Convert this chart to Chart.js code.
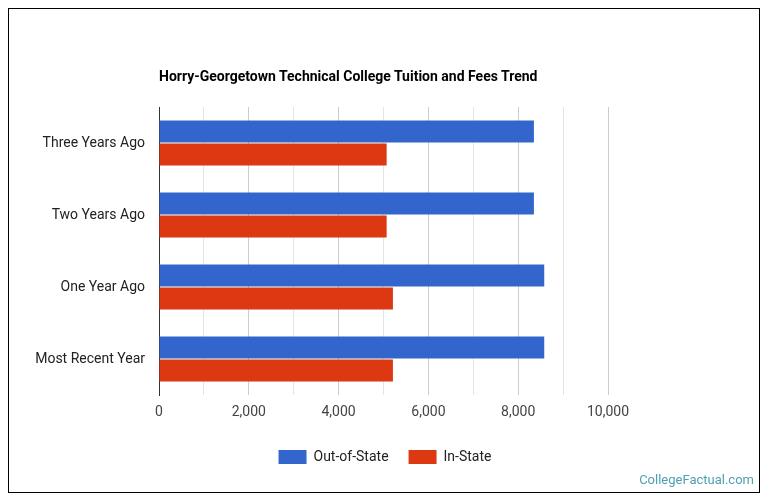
<!DOCTYPE html>
<html>
<head>
<meta charset="utf-8">
<script src="https://cdn.jsdelivr.net/npm/chart.js@4/dist/chart.umd.min.js"></script>
<style>
  html, body { margin: 0; padding: 0; background: #fff; }
  #wrap { position: relative; width: 770px; height: 503px; font-family: Roboto, "Noto Sans", sans-serif; }
  #frame { position: absolute; left: 8px; top: 8px; width: 752px; height: 485px; box-sizing: border-box; border: 1px solid #000; pointer-events: none; }
  #title { position: absolute; left: 159px; top: 67px; font-size: 14px; font-weight: bold; color: #000; line-height: 18px; white-space: nowrap; }
  #credit { position: absolute; right: 16px; top: 471px; font-size: 13px; color: #4f9fb5; line-height: 18px; }
  canvas { position: absolute; left: 0; top: 0; }
</style>
</head>
<body>
<div id="wrap">
  <canvas id="chart" width="770" height="503"></canvas>
  <div id="title">Horry-Georgetown Technical College Tuition and Fees Trend</div>
  <div id="credit">CollegeFactual.com</div>
  <div id="frame"></div>
</div>
<script>
// chart data
const categories = ["Three Years Ago", "Two Years Ago", "One Year Ago", "Most Recent Year"];
const outOfState = [8350, 8350, 8580, 8580];
const inState = [5070, 5070, 5210, 5210];
const xTicks = [0, 2000, 4000, 6000, 8000, 10000];

const ctx = document.getElementById("chart").getContext("2d");
Chart.defaults.font.family = "Roboto, 'Noto Sans', sans-serif";

new Chart(ctx, {
  type: "bar",
  data: {
    labels: categories,
    datasets: [
      {
        label: "Out-of-State",
        data: outOfState,
        backgroundColor: "#3366cc",
        categoryPercentage: 0.64,
        barPercentage: 0.96,
      },
      {
        label: "In-State",
        data: inState,
        backgroundColor: "#dc3912",
        categoryPercentage: 0.64,
        barPercentage: 0.96,
      },
    ],
  },
  options: {
    indexAxis: "y",
    responsive: false,
    animation: false,
    layout: { padding: { top: 107, bottom: 29, left: 0, right: 0 } },
    plugins: {
      tooltip: { enabled: false },
      legend: {
        position: "bottom",
        labels: {
          boxWidth: 28,
          boxHeight: 14,
          padding: 20,
          color: "#222",
          font: { size: 14 },
        },
      },
    },
    scales: {
      x: {
        min: 0,
        max: 10000,
        ticks: {
          stepSize: 1000,
          padding: 9,
          color: "#444",
          font: { size: 14 },
          autoSkip: false,
          maxRotation: 0,
          // only label the even thousands
          callback: (v) => (xTicks.includes(v) ? v.toLocaleString("en-US") : ""),
        },
        grid: {
          drawTicks: false,
          color: (c) => (c.tick && c.tick.value % 2000 === 0 ? "#cccccc" : "#e4e4e4"),
        },
        border: { display: false },
        afterFit: (s) => { s.height = 35; },
      },
      y: {
        grid: { display: false, drawTicks: false },
        border: { display: true, color: "#333", width: 1 },
        ticks: { padding: 14, color: "#222", font: { size: 14 } },
        afterFit: (s) => { s.width = 159; },
      },
      // empty right axis to hold the right margin so the legend stays centred
      yRight: {
        type: "category",
        position: "right",
        grid: { display: false, drawTicks: false },
        border: { display: false },
        ticks: { display: false },
        afterFit: (s) => { s.width = 162; },
      },
    },
  },
});
</script>
</body>
</html>
